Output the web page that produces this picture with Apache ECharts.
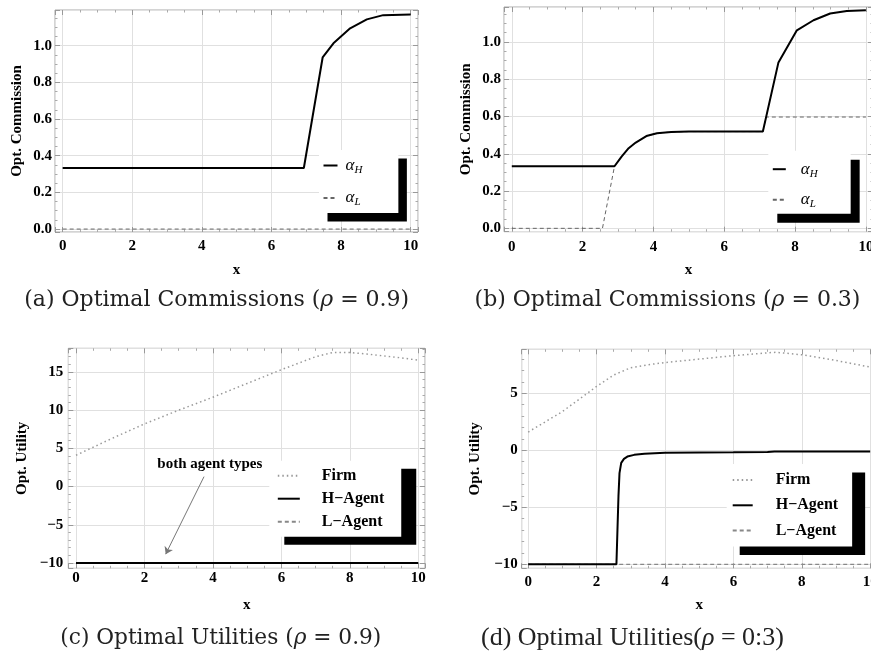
<!DOCTYPE html>
<html>
<head>
<meta charset="utf-8">
<script src="https://cdn.jsdelivr.net/npm/echarts@6/dist/echarts.min.js"></script>
<style>
html,body{margin:0;padding:0;background:#fff;}
#c{width:871px;height:655px;}
</style>
</head>
<body>
<div id="c"></div>
<script>
// ---------- DATA ----------
// (a) Optimal Commissions, rho = 0.9
const aH_x = [0, 6.93, 7.47, 7.78, 8.26, 8.74, 9.21, 10];
const aH_y = [0.333, 0.333, 0.936, 1.013, 1.095, 1.144, 1.167, 1.171];
const aL_x = [0, 10];
const aL_y = [0, 0];
// (b) Optimal Commissions, rho = 0.3
const bH_x = [0, 2.9, 3.1, 3.3, 3.5, 3.8, 4.1, 4.5, 5, 7.09, 7.53, 8.05, 8.52, 8.99, 9.46, 10];
const bH_y = [0.333, 0.333, 0.385, 0.43, 0.46, 0.495, 0.51, 0.517, 0.519, 0.519, 0.89, 1.062, 1.116, 1.152, 1.166, 1.17];
const bL_x = [0, 2.56, 2.9, 3.1, 3.3, 3.5, 3.8, 4.1, 4.5, 5, 7.09, 7.18, 10];
const bL_y = [0, 0, 0.333, 0.385, 0.43, 0.46, 0.495, 0.51, 0.517, 0.519, 0.519, 0.597, 0.597];
// (c) Optimal Utilities, rho = 0.9
const cF_x = [0, 1, 2, 3, 4, 5, 6, 7, 7.5, 8, 8.5, 9, 9.5, 10];
const cF_y = [4.1, 6.2, 8.2, 10.0, 11.7, 13.5, 15.3, 17.0, 17.55, 17.55, 17.35, 17.1, 16.85, 16.55];
const cH_x = [0, 10];
const cH_y = [-10, -10];
const cL_x = [0, 10];
const cL_y = [-10, -10];
// (d) Optimal Utilities, rho = 0.3
const dF_x = [0, 0.5, 1, 1.5, 2, 2.5, 3, 3.5, 4, 5, 6, 7, 7.25, 8, 9, 10];
const dF_y = [1.6, 2.5, 3.4, 4.5, 5.6, 6.6, 7.25, 7.5, 7.7, 8.0, 8.3, 8.55, 8.6, 8.38, 7.88, 7.3];
const dH_x = [0, 2.58, 2.61, 2.64, 2.67, 2.72, 2.8, 2.9, 3.1, 3.4, 4, 6, 7, 7.2, 10];
const dH_y = [-10, -10, -7, -4, -2, -1.1, -0.75, -0.55, -0.4, -0.3, -0.22, -0.18, -0.15, -0.1, -0.1];
const dL_x = [0, 10];
const dL_y = [-10, -10];
// annotation in (c)
const noteText = 'both agent types';
const notePos = [3.91, 2.97];
const arrowFrom = [3.74, 1.3];
const arrowTo = [2.62, -8.85];
// texts
const captions = [
  '(a) Optimal Commissions ({i|ρ} = 0.9)',
  '(b) Optimal Commissions ({i|ρ} = 0.3)',
  '(c) Optimal Utilities ({i|ρ} = 0.9)',
  '(d) Optimal Utilities({i|ρ} = 0:3)'
];
const yNames = ['Opt. Commission', 'Opt. Commission', 'Opt. Utility', 'Opt. Utility'];
const xName = 'x';
const legendAlpha = ['αH', 'αL'];
const legendUtil = ['Firm', 'H−Agent', 'L−Agent'];

// ---------- helpers ----------
const pairs = (xs, ys) => xs.map((x, i) => [x, ys[i]]);
const TICKFONT = 'Liberation Serif';
const frameColor = '#a8a8a8';
const gridColor = '#e0e0e0';

const grids = [
  {left: 55, top: 10, width: 363, height: 222},
  {left: 504, top: 7, width: 369, height: 224.7},
  {left: 68.3, top: 348.3, width: 356.7, height: 220},
  {left: 521.7, top: 349.3, width: 355.3, height: 219}
];
const xr = [[-0.22, 10.21], [-0.22, 10.2], [-0.225, 10.196], [-0.19, 10.2]];
const yr = [[-0.016, 1.195], [-0.018, 1.187], [-10.7, 18.1], [-10.35, 8.86]];
const ySplit = [6, 6, 6, 4];
const yMinor = [4, 4, 5, 5];
const yLabMargin = [3, 3, 5, 4];
const xLabMargin = [7, 7.5, 2.5, 6];
const yNameGap = [30, 30.5, 39, 39];
const xNameGap = [30.5, 31, 29, 29];

const fmtNum = (dec) => (v) => {
  const s = dec ? v.toFixed(1) : String(Math.round(v));
  return s.replace('-', '−');
};

const xAxes = [], yAxes = [];
for (let i = 0; i < 4; i++) {
  const tick = {show: true, inside: true, length: 5, lineStyle: {color: '#999'}};
  const minor = {show: true, splitNumber: 4, length: 2.5, lineStyle: {color: '#aaa'}};
  const noLine = {show: false, onZero: false};
  xAxes.push({
    type: 'value', gridIndex: i, position: 'bottom', min: xr[i][0], max: xr[i][1], splitNumber: 5,
    axisLine: noLine, axisTick: tick, minorTick: minor,
    splitLine: {show: true, lineStyle: {color: gridColor, width: 1}},
    axisLabel: {show: true, margin: xLabMargin[i], showMinLabel: false, showMaxLabel: false,
      fontFamily: TICKFONT, fontWeight: 'bold', fontSize: 15, color: '#000'},
    name: xName, nameLocation: 'middle', nameGap: xNameGap[i],
    nameTextStyle: {fontFamily: TICKFONT, fontWeight: 'bold', fontSize: 15, color: '#000'}
  });
  xAxes.push({
    type: 'value', gridIndex: i, position: 'top', min: xr[i][0], max: xr[i][1], splitNumber: 5,
    axisLine: noLine, axisTick: tick, minorTick: minor,
    splitLine: {show: false}, axisLabel: {show: false}
  });
  const yminor = {show: true, splitNumber: yMinor[i], length: 2.5, lineStyle: {color: '#aaa'}};
  yAxes.push({
    type: 'value', gridIndex: i, position: 'left', min: yr[i][0], max: yr[i][1], splitNumber: ySplit[i],
    axisLine: noLine, axisTick: tick, minorTick: yminor,
    splitLine: {show: true, lineStyle: {color: gridColor, width: 1}},
    axisLabel: {show: true, margin: yLabMargin[i], showMinLabel: false, showMaxLabel: false,
      formatter: fmtNum(i < 2), fontFamily: TICKFONT, fontWeight: 'bold', fontSize: 15, color: '#000'},
    name: yNames[i], nameLocation: 'middle', nameGap: yNameGap[i],
    nameTextStyle: {fontFamily: TICKFONT, fontWeight: 'bold', fontSize: 15, color: '#000'}
  });
  yAxes.push({
    type: 'value', gridIndex: i, position: 'right', min: yr[i][0], max: yr[i][1], splitNumber: ySplit[i],
    axisLine: noLine, axisTick: tick, minorTick: yminor,
    splitLine: {show: false}, axisLabel: {show: false}
  });
}

const solidH = {color: '#000', width: 2, type: 'solid'};
const dashL = {color: '#666', width: 1, type: [4, 3]};
const dotF = {color: '#999', width: 1.5, type: [1.5, 3]};
const dashUL = {color: '#888', width: 1.2, type: [4, 3]};

function line(name, gi, data, ls, z, extra) {
  return Object.assign({
    type: 'line', name: name, xAxisIndex: gi * 2, yAxisIndex: gi * 2, data: data,
    showSymbol: false, symbol: 'none', lineStyle: ls, itemStyle: {color: ls.color}, z: z, silent: true
  }, extra || {});
}

const series = [
  line(legendAlpha[1], 0, pairs(aL_x, aL_y), dashL, 3),
  line(legendAlpha[0], 0, pairs(aH_x, aH_y), solidH, 4),
  line(legendAlpha[1], 1, pairs(bL_x, bL_y), dashL, 3),
  line(legendAlpha[0], 1, pairs(bH_x, bH_y), solidH, 4),
  line(legendUtil[0], 2, pairs(cF_x, cF_y), dotF, 3),
  line(legendUtil[2], 2, pairs(cL_x, cL_y), dashUL, 3),
  line(legendUtil[1], 2, pairs(cH_x, cH_y), solidH, 4, {
    markLine: {
      silent: true, symbol: ['none', 'arrow'], symbolSize: 7,
      lineStyle: {color: '#777', width: 1, type: 'solid'}, label: {show: false},
      data: [[{coord: arrowFrom}, {coord: arrowTo}]]
    },
    markPoint: {
      silent: true, symbol: 'rect', symbolSize: [1, 1], itemStyle: {color: 'rgba(0,0,0,0)'},
      label: {show: true, position: 'inside', formatter: noteText, color: '#000',
        fontFamily: TICKFONT, fontWeight: 'bold', fontSize: 15},
      data: [{coord: notePos}]
    }
  }),
  line(legendUtil[0], 3, pairs(dF_x, dF_y), dotF, 3),
  line(legendUtil[2], 3, pairs(dL_x, dL_y), dashUL, 3),
  line(legendUtil[1], 3, pairs(dH_x, dH_y), solidH, 4)
];

const alphaRich = {
  a: {fontFamily: 'Liberation Serif', fontStyle: 'italic', fontSize: 17, lineHeight: 20, color: '#000'},
  s: {fontFamily: 'Liberation Serif', fontStyle: 'italic', fontSize: 11, lineHeight: 12, verticalAlign: 'bottom', color: '#000'}
};
const alphaFmt = (n) => '{a|α}{s|' + n.slice(1) + '}';
const legBase = {
  orient: 'vertical', backgroundColor: '#fff', borderWidth: 0, borderRadius: 0,
  shadowColor: '#000', shadowBlur: 0, selectedMode: false, align: 'left',
  itemStyle: {opacity: 0, color: 'rgba(0,0,0,0)', borderWidth: 0}
};
const legends = [
  Object.assign({}, legBase, {left: 319, top: 150, data: legendAlpha, itemWidth: 14, itemHeight: 14, itemGap: 14,
    padding: [7, 36, 5, 3.5], shadowOffsetX: 8.5, shadowOffsetY: 8.5,
    formatter: alphaFmt, textStyle: {rich: alphaRich, padding: [0, 0, 0, 3]}}),
  Object.assign({}, legBase, {left: 768.3, top: 150.7, data: legendAlpha, itemWidth: 13, itemHeight: 14, itemGap: 12,
    padding: [10, 33, 4, 3.5], shadowOffsetX: 9, shadowOffsetY: 9,
    formatter: alphaFmt, textStyle: {rich: alphaRich, padding: [0, 0, 0, 10]}}),
  Object.assign({}, legBase, {left: 269.3, top: 460.7, data: legendUtil, itemWidth: 22, itemHeight: 14, itemGap: 7,
    padding: [7, 17, 7, 7.5], shadowOffsetX: 15, shadowOffsetY: 8,
    textStyle: {fontFamily: TICKFONT, fontWeight: 'bold', fontSize: 16, color: '#000', padding: [0, 0, 0, 17]}}),
  Object.assign({}, legBase, {left: 726.7, top: 464, data: legendUtil, itemWidth: 20, itemHeight: 14, itemGap: 9.3,
    padding: [8, 14, 8, 5], shadowOffsetX: 13, shadowOffsetY: 8.5,
    textStyle: {fontFamily: TICKFONT, fontWeight: 'bold', fontSize: 16, color: '#000', padding: [0, 0, 0, 18]}})
];

const capPos = [[216.7, 300.7], [667.5, 300.7], [220.8, 638.3], [632.5, 638]];
const capFont = ['DejaVu Serif', 'DejaVu Serif', 'DejaVu Serif', 'Liberation Serif'];
const capSize = [22, 22, 21.7, 26];
const titles = captions.map((t, i) => ({
  text: t, left: capPos[i][0], top: capPos[i][1] - 14, textAlign: 'center', padding: 0,
  textStyle: {fontFamily: capFont[i], fontWeight: 'normal', fontSize: capSize[i], lineHeight: 28, color: '#222',
    rich: {i: {fontFamily: capFont[i], fontStyle: 'italic', fontSize: capSize[i], lineHeight: 28, color: '#222'}}}
}));

const chart = echarts.init(document.getElementById('c'), null, {renderer: 'canvas'});
chart.setOption({
  animation: false,
  backgroundColor: '#fff',
  title: titles,
  grid: grids.map(g => Object.assign({show: true, borderColor: frameColor, borderWidth: 1, backgroundColor: 'rgba(0,0,0,0)',
    containLabel: false, outerBoundsMode: 'none'}, g)),
  xAxis: xAxes,
  yAxis: yAxes,
  legend: legends,
  series: series
});
</script>
</body>
</html>
